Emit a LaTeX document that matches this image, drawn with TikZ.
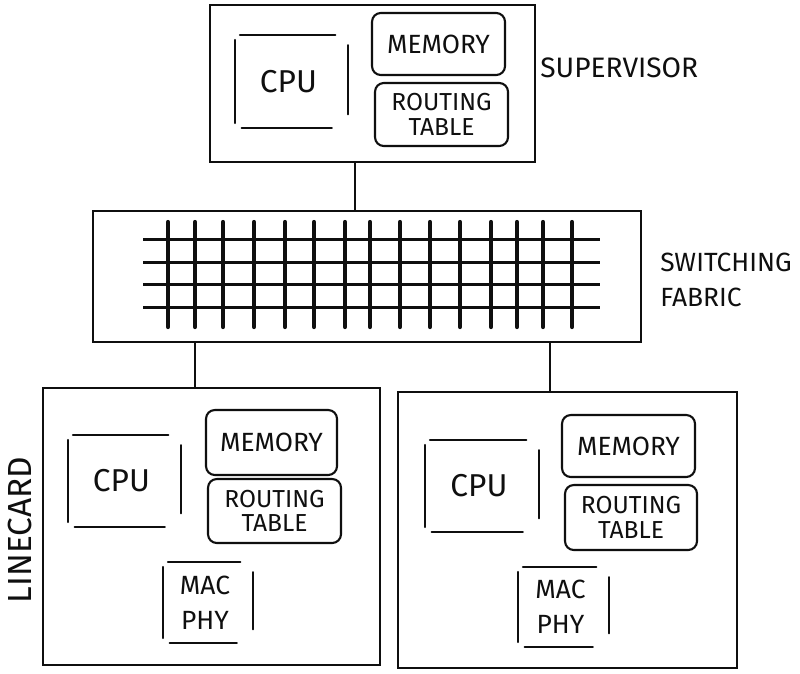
\documentclass[tikz,border=0pt]{standalone}
\usepackage{fontspec}
\setmainfont{Fira Sans}
\usepackage{tikz}
\usetikzlibrary{positioning,calc}
\definecolor{inkcolor}{RGB}{15,15,15}

\newcommand{\sketchbox}[1]{%
  \draw[boxline] ([yshift=-3pt]#1.north west) -- ([yshift=3pt]#1.south west);
  \draw[boxline] ([xshift=3pt]#1.north west) -- ([xshift=-4pt]#1.north east);
  \draw[boxline] ([xshift=4pt]#1.south west) -- ([xshift=-6pt]#1.south east);
  \draw[boxline] ([xshift=3pt,yshift=-6pt]#1.north east) -- ([xshift=3pt,yshift=8pt]#1.south east);}

\begin{document}
\begin{tikzpicture}[
        x=0.02cm, y=-0.02cm,
        boxline/.style={draw=inkcolor, line width=1.2pt, line cap=round},
        outerbox/.style={rectangle, draw=inkcolor, line width=1.4pt, inner sep=0pt},
        cpubox/.style={rectangle, inner sep=0pt, font=\fontsize{18}{20}\selectfont, text=inkcolor},
        membox/.style={rectangle, draw=inkcolor, line width=1.2pt, rounded corners=5pt, inner sep=0pt, align=center, text=inkcolor},
        macbox/.style={rectangle, inner sep=0pt, align=center, text=inkcolor, font=\fontsize{15}{20}\selectfont},
        hwire/.style={draw=inkcolor, line width=1.7pt},
        vwire/.style={draw=inkcolor, line width=2.4pt, line cap=round},
        title/.style={text=inkcolor, inner sep=0pt, align=left}
    ]
        \fill[white] (0,0) rectangle (800,673);

        % supervisor
        \node[outerbox, minimum width=6.5cm, minimum height=3.14cm] (sup) at (372.5,83.5) {};
        \node[cpubox, minimum width=2.14cm, minimum height=1.86cm] (supcpu) at (288.5,81.5) {CPU};
        \node[membox, minimum width=2.66cm, minimum height=1.24cm, font=\fontsize{15}{16}\selectfont] (supmem) at (438.5,44) {MEMORY};
        \node[membox, minimum width=2.66cm, minimum height=1.26cm, font=\fontsize{14}{14}\selectfont] (suprt) at (441.5,114.5) {ROUTING\\TABLE};
        \sketchbox{supcpu}
        \node[title, anchor=west, font=\fontsize{16}{18}\selectfont] (suplabel) at (540,68) {SUPERVISOR};

        % switching fabric
        \node[outerbox, minimum width=10.96cm, minimum height=2.62cm] (fabric) at (367,276.5) {};
        \foreach \y in {239,262,284,307}
            \draw[hwire] (143,\y) -- (600,\y);
        \foreach \x in {168,195,223,254,285,314,345,370,400,430,460,491,517,543,572}
            \draw[vwire] (\x,222) -- (\x,327);
        \node[title, anchor=west, font=\fontsize{15}{20}\selectfont] (fablabel) at (660,280) {SWITCHING\\FABRIC};

        % linecards
        \node[outerbox, minimum width=6.74cm, minimum height=5.54cm] (lcl) at (211.5,526.5) {};
        \node[cpubox, minimum width=2.14cm, minimum height=1.84cm] (lclcpu) at (121.5,481) {CPU};
        \node[membox, minimum width=2.62cm, minimum height=1.3cm, font=\fontsize{15}{16}\selectfont] (lclmem) at (271.5,442.5) {MEMORY};
        \node[membox, minimum width=2.66cm, minimum height=1.28cm, font=\fontsize{14}{14}\selectfont] (lclrt) at (274.5,511) {ROUTING\\TABLE};
        \node[macbox, minimum width=1.68cm, minimum height=1.62cm] (lclmac) at (205,602.5) {MAC\\PHY};
        \sketchbox{lclcpu}
        \sketchbox{lclmac}

        \node[outerbox, minimum width=6.78cm, minimum height=5.52cm] (lcr) at (567.5,530) {};
        \node[cpubox, minimum width=2.16cm, minimum height=1.84cm] (lcrcpu) at (479,486) {CPU};
        \node[membox, minimum width=2.66cm, minimum height=1.24cm, font=\fontsize{15}{16}\selectfont] (lcrmem) at (628.5,446) {MEMORY};
        \node[membox, minimum width=2.64cm, minimum height=1.3cm, font=\fontsize{14}{14}\selectfont] (lcrrt) at (631,517.5) {ROUTING\\TABLE};
        \node[macbox, minimum width=1.7cm, minimum height=1.6cm] (lcrmac) at (560.5,607) {MAC\\PHY};
        \sketchbox{lcrcpu}
        \sketchbox{lcrmac}

        \node[title, rotate=90, font=\fontsize{19}{20}\selectfont] (lclabel) at (20,530) {LINECARD};

        % wiring
        \draw[boxline] ([xshift=-3.5mm]sup.south) -- ([xshift=-3.5mm]sup.south |- fabric.north);
        \draw[boxline] ([xshift=-3.3mm]lcl.north) -- ([xshift=-3.3mm]lcl.north |- fabric.south);
        \draw[boxline] ([xshift=-3.5mm]lcr.north) -- ([xshift=-3.5mm]lcr.north |- fabric.south);
    \end{tikzpicture}
\end{document}
